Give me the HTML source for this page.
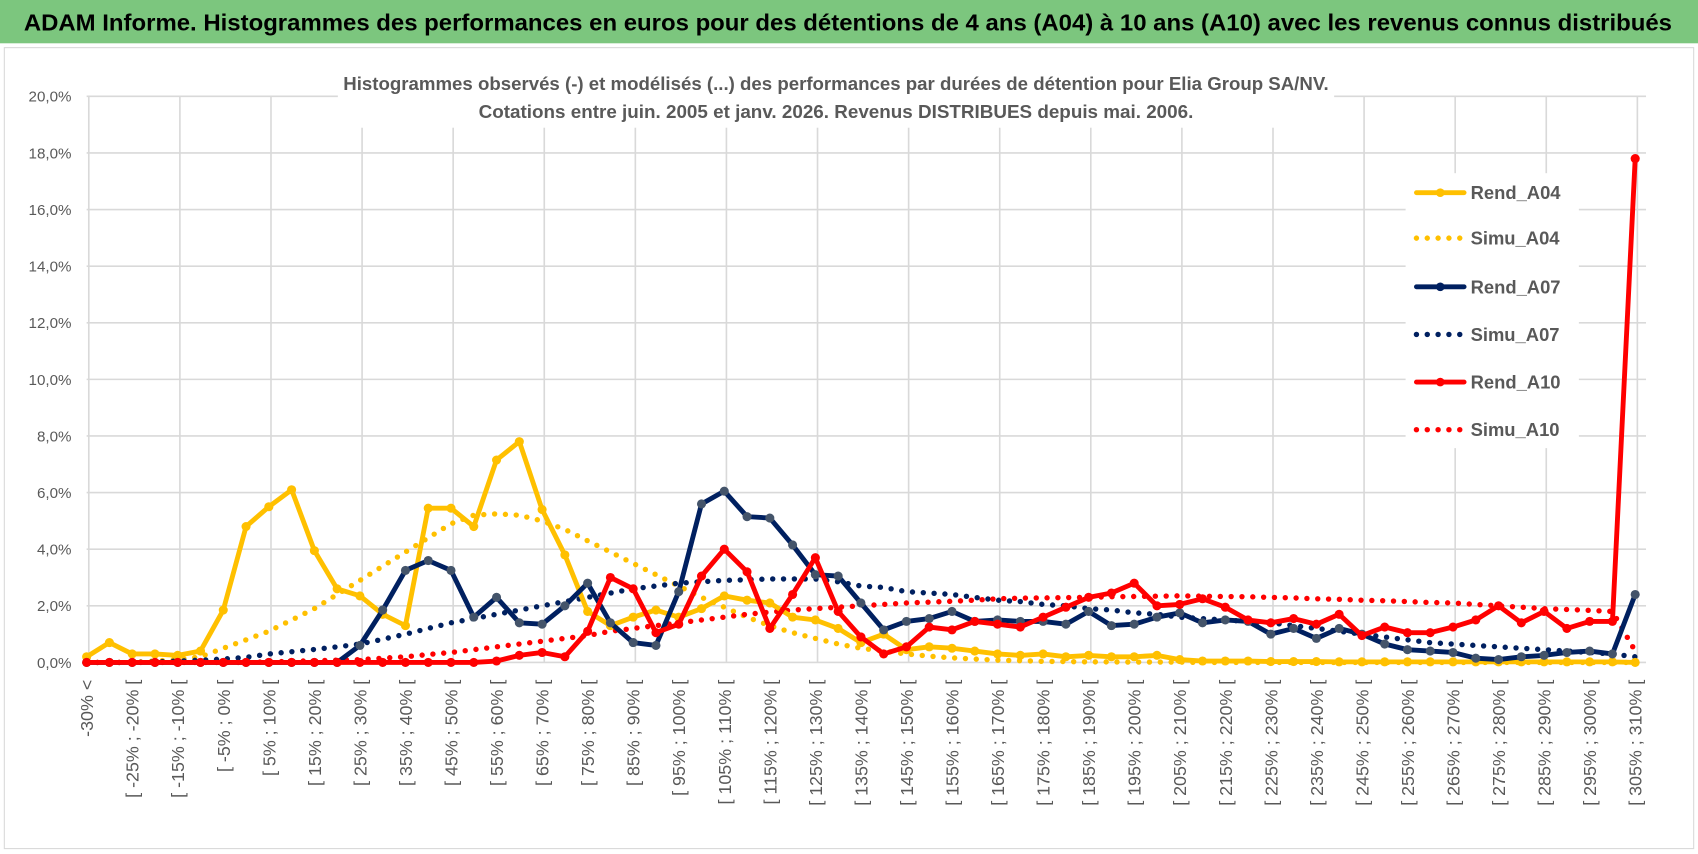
<!DOCTYPE html>
<html><head><meta charset="utf-8"><style>
html,body{margin:0;padding:0;background:#fff;}
svg{display:block;font-family:"Liberation Sans",sans-serif;}
</style></head><body>
<svg id="chart" width="1698" height="854" viewBox="0 0 1568 789" preserveAspectRatio="none" xmlns="http://www.w3.org/2000/svg">
<rect x="0" y="0" width="1568" height="789" fill="#fff"/>
<rect x="0" y="0" width="1568" height="40" fill="#7cc67e"/>
<text x="22" y="28" font-size="21" font-weight="bold" fill="#000" textLength="1522" lengthAdjust="spacingAndGlyphs">ADAM Informe. Histogrammes des performances en euros pour des détentions de 4 ans (A04) à 10 ans (A10) avec les revenus connus distribués</text>
<rect x="4" y="44" width="1560" height="740" fill="none" stroke="#d9d9d9" stroke-width="1"/>
<g id="grid"></g>
<rect x="312" y="64" width="920" height="54" fill="#fff"/>
<text x="772" y="83" text-anchor="middle" font-size="17" font-weight="bold" fill="#595959" textLength="910" lengthAdjust="spacingAndGlyphs">Histogrammes observés (-) et modélisés (...) des performances par durées de détention pour Elia Group SA/NV.</text>
<text x="772" y="109" text-anchor="middle" font-size="17" font-weight="bold" fill="#595959" textLength="660" lengthAdjust="spacingAndGlyphs">Cotations entre juin. 2005 et janv. 2026. Revenus DISTRIBUES depuis mai. 2006.</text>
<g id="yaxis"></g><g id="xaxis"></g><g id="series"></g>
<rect x="1298" y="160" width="160" height="254" fill="#fff"/>
<g id="legend"></g>
</svg>
<script>
const yTicks=[0,2,4,6,8,10,12,14,16,18,20];
const rendA04=[0.2,0.7,0.3,0.3,0.25,0.4,1.85,4.8,5.5,6.1,3.95,2.6,2.35,1.7,1.3,5.45,5.45,4.8,7.15,7.8,5.4,3.8,1.8,1.3,1.6,1.85,1.6,1.9,2.35,2.2,2.1,1.6,1.5,1.2,0.7,1.0,0.45,0.55,0.5,0.4,0.3,0.25,0.3,0.2,0.25,0.2,0.2,0.25,0.1,0.05,0.05,0.05,0.03,0.03,0.03,0.02,0.02,0.02,0.02,0.02,0.02,0.02,0.02,0.02,0.02,0.02,0.02,0.02,0.0];
const simuA04=[0,0,0,0.05,0.1,0.2,0.5,0.8,1.1,1.5,1.9,2.4,2.9,3.4,3.9,4.4,4.9,5.2,5.25,5.2,5.0,4.7,4.3,3.9,3.5,3.1,2.7,2.3,1.95,1.6,1.3,1.05,0.85,0.65,0.5,0.4,0.3,0.22,0.16,0.12,0.08,0.06,0.04,0.03,0.02,0.02,0.01,0.01,0.01,0,0,0,0,0,0,0,0,0,0,0,0,0,0,0,0,0,0,0,0];
const rendA07=[0,0,0,0,0,0,0,0,0,0,0,0,0.6,1.85,3.25,3.6,3.25,1.6,2.3,1.4,1.35,2.0,2.8,1.4,0.7,0.6,2.5,5.6,6.05,5.15,5.1,4.15,3.1,3.05,2.1,1.15,1.45,1.55,1.8,1.45,1.5,1.45,1.45,1.35,1.8,1.3,1.35,1.6,1.75,1.4,1.5,1.45,1.0,1.2,0.85,1.2,1.0,0.65,0.45,0.4,0.35,0.15,0.1,0.2,0.25,0.35,0.4,0.3,2.4];
const simuA07=[0,0,0,0.02,0.05,0.08,0.12,0.18,0.3,0.38,0.46,0.55,0.65,0.82,1.0,1.2,1.4,1.55,1.7,1.85,2.0,2.15,2.3,2.45,2.6,2.7,2.8,2.85,2.9,2.92,2.95,2.95,2.95,2.85,2.7,2.65,2.5,2.45,2.4,2.3,2.2,2.15,2.05,2.0,1.9,1.85,1.75,1.7,1.6,1.55,1.5,1.45,1.4,1.3,1.2,1.1,1.0,0.9,0.8,0.7,0.65,0.6,0.55,0.5,0.45,0.4,0.35,0.3,0.2];
const rendA10=[0,0,0,0,0,0,0,0,0,0,0,0,0,0,0,0,0,0,0.05,0.25,0.35,0.2,1.1,3.0,2.6,1.05,1.35,3.05,4.0,3.2,1.2,2.4,3.7,1.8,0.9,0.3,0.55,1.25,1.15,1.45,1.35,1.25,1.6,1.95,2.3,2.45,2.8,2.0,2.05,2.25,1.95,1.5,1.4,1.55,1.35,1.7,0.95,1.25,1.05,1.05,1.25,1.5,2.0,1.4,1.8,1.2,1.45,1.45,17.8];
const simuA10=[0,0,0,0,0,0,0,0,0.02,0.04,0.06,0.08,0.1,0.15,0.2,0.28,0.35,0.45,0.55,0.65,0.75,0.85,0.95,1.1,1.2,1.3,1.4,1.5,1.6,1.7,1.78,1.85,1.9,1.95,2.0,2.05,2.1,2.13,2.16,2.2,2.25,2.27,2.28,2.29,2.3,2.32,2.33,2.34,2.35,2.34,2.33,2.32,2.3,2.28,2.25,2.23,2.2,2.18,2.15,2.12,2.1,2.05,2.0,1.95,1.9,1.87,1.84,1.8,0.4];
const NS="http://www.w3.org/2000/svg";
const N=rendA04.length;
const x0=80,x1=1510,y0=612,y20=89;
function xs(i){return x0+(x1-x0)*i/(N-1);}
function ys(v){return y0-(y0-y20)*v/20;}
function catLabel(i){if(i===0)return "-30% <";const a=-35+5*i;return "[ "+a+"% ; "+(a+5)+"% ["}
function mk(tag,attrs,parent){const e=document.createElementNS(NS,tag);for(const k in attrs)e.setAttribute(k,attrs[k]);parent.appendChild(e);return e;}
const grid=document.getElementById('grid'),yax=document.getElementById('yaxis'),xax=document.getElementById('xaxis'),ser=document.getElementById('series'),leg=document.getElementById('legend');
yTicks.forEach(t=>{
 const l=mk('line',{x1:x0,x2:1520,y1:ys(t),y2:ys(t),stroke:'#d9d9d9','stroke-width':1.5},grid);
 
 
 const tx=mk('text',{x:66,y:ys(t)+5,'text-anchor':'end','font-size':14,fill:'#595959'},yax);
 tx.textContent=t.toFixed(1).replace('.',',')+'%';
 
 
});
for(let i=0;i<N;i+=4){
 const l=mk('line',{x1:xs(i)+2,x2:xs(i)+2,y1:y20,y2:y0,stroke:'#d9d9d9','stroke-width':1.5},grid);
 
 
}
for(let i=0;i<N;i+=2){
 const tx=mk('text',{transform:'translate('+(xs(i)+6)+',628) rotate(-90)','text-anchor':'end','font-size':16.5,fill:'#595959'},xax);
 tx.textContent=catLabel(i);
 
 
}
function pts(arr){return arr.map((v,i)=>xs(i).toFixed(1)+','+ys(v).toFixed(1)).join(' ');}
function dotted(arr,color,name){
 const p=mk('polyline',{points:pts(arr),fill:'none',stroke:color,'stroke-width':5,'stroke-dasharray':'0 10','stroke-linecap':'round'},ser);
 
 
}
function solid(arr,color,mcolor,name){
 const p=mk('polyline',{points:pts(arr),fill:'none',stroke:color,'stroke-width':4.5,'stroke-linejoin':'round'},ser);
 
 
 arr.forEach((v,i)=>{const c=mk('circle',{cx:xs(i),cy:ys(v),r:4.2,fill:mcolor},ser);
  
  });
}
dotted(simuA04,'#ffc000','simu-a04-line');
dotted(simuA07,'#002060','simu-a07-line');
dotted(simuA10,'#ff0000','simu-a10-line');
solid(rendA04,'#ffc000','#ffc000','rend-a04-line');
solid(rendA07,'#002060','#44546a','rend-a07-line');
solid(rendA10,'#ff0000','#ff0000','rend-a10-line');
const legItems=[['Rend_A04','#ffc000',false],['Simu_A04','#ffc000',true],['Rend_A07','#002060',false],['Simu_A07','#002060',true],['Rend_A10','#ff0000',false],['Simu_A10','#ff0000',true]];
const legY=[178,220,265,309,353,397];
legItems.forEach((it,k)=>{
 const y=legY[k];
 const l=mk('line',{x1:1308,x2:1352,y1:y,y2:y,stroke:it[1],'stroke-width':it[2]?5:4.5,'stroke-linecap':'round'},leg);
 if(it[2])l.setAttribute('stroke-dasharray','0 10');
 
 
 if(!it[2]){const c=mk('circle',{cx:1330,cy:y,r:4,fill:it[1]},leg);
  
  }
 const t=mk('text',{x:1358,y:y+6,'font-size':17,'font-weight':'bold',fill:'#595959'},leg);
 t.textContent=it[0];
 
 
});
</script>
</body></html>
